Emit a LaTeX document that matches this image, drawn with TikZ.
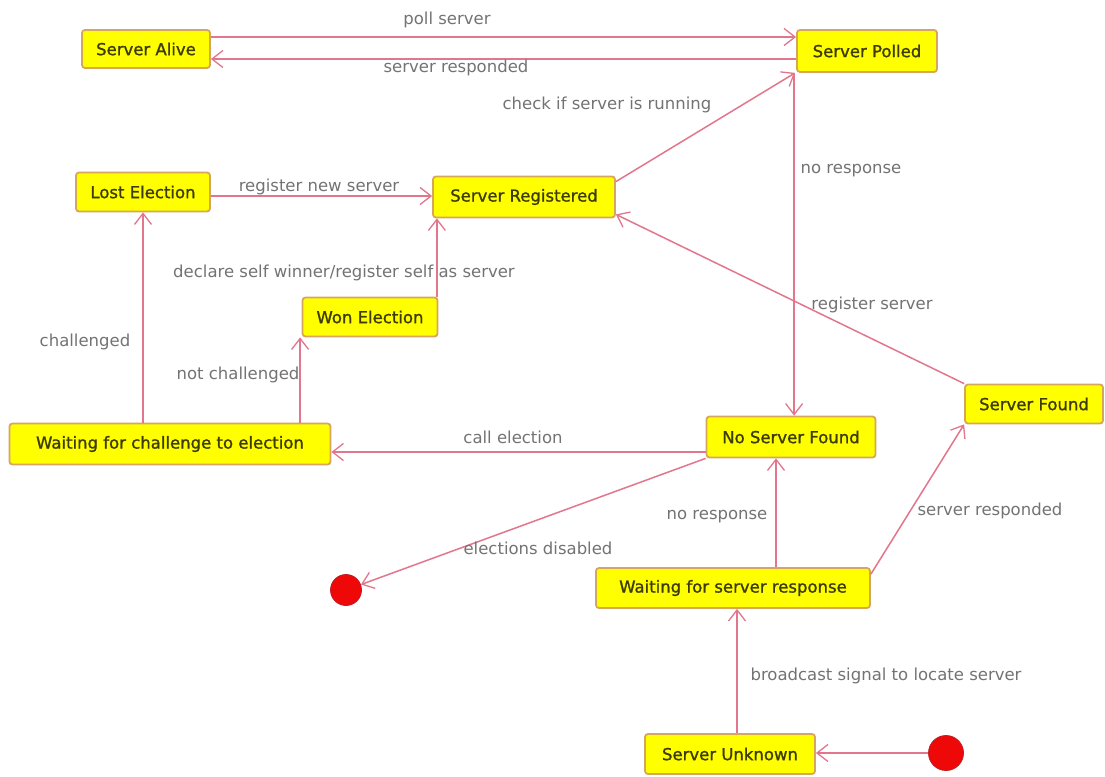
\documentclass[tikz,border=0pt]{standalone}
\usepackage{fontspec}
\setmainfont{DejaVu Sans}
\newfontfamily\statefont[FakeBold=1.2]{DejaVu Sans}
\usetikzlibrary{arrows.meta}
\definecolor{stfill}{RGB}{255,255,0}
\definecolor{stline}{RGB}{214,166,92}
\definecolor{sttext}{RGB}{60,60,0}
\definecolor{edge}{RGB}{226,118,140}
\definecolor{lbltext}{RGB}{115,115,115}
\definecolor{dot}{RGB}{238,8,8}
\definecolor{dotline}{RGB}{190,30,40}
\tikzset{
  st/.style={draw=stline, fill=stfill, line width=1.8pt, rounded corners=3pt,
    text=sttext, font=\statefont\fontsize{16.5}{18}\selectfont, inner sep=0pt},
  tr/.style={draw=edge, line width=1.5pt,
    -{Straight Barb[length=11pt,width=17pt,line width=1.3pt]}},
  lbl/.style={text=lbltext, font=\fontsize{16.5}{18}\selectfont, inner sep=1pt},
  pseudo/.style={circle, fill=dot, draw=dotline, line width=0.8pt, inner sep=0pt}
}
\begin{document}
\begin{tikzpicture}[x=1pt,y=-1pt]
\useasboundingbox (0,0) rectangle (1105,776);
\fill[white] (0,0) rectangle (1105,776);

% states
\node[st, minimum width=128pt, minimum height=38pt] (alive) at (146,49) {Server Alive};
\node[st, minimum width=140pt, minimum height=42pt] (polled) at (867,51) {Server Polled};
\node[st, minimum width=134pt, minimum height=39pt] (lost) at (143,192) {Lost Election};
\node[st, minimum width=182pt, minimum height=41pt] (registered) at (524,197) {Server Registered};
\node[st, minimum width=135pt, minimum height=39pt] (won) at (370,317) {Won Election};
\node[st, minimum width=321pt, minimum height=41pt] (wch) at (170,444) {Waiting for challenge to election};
\node[st, minimum width=169pt, minimum height=41pt] (nofound) at (791,437) {No Server Found};
\node[st, minimum width=138pt, minimum height=39pt] (found) at (1034,404) {Server Found};
\node[st, minimum width=274pt, minimum height=40pt] (wsr) at (733,588) {Waiting for server response};
\node[st, minimum width=170pt, minimum height=40pt] (unknown) at (730,754) {Server Unknown};

% pseudo states
\node[pseudo, minimum size=31pt] (final) at (346,590) {};
\node[pseudo, minimum size=35pt] (init) at (946,753) {};

% transitions
\draw[tr] ([yshift=12pt]alive.east) -- ([yshift=12pt]alive.east -| polled.west);
\draw[tr] ([yshift=-8pt]polled.west) -- ([yshift=-8pt]polled.west -| alive.east);
\draw[tr] ([yshift=-6pt]registered.north east) -- ([xshift=-1pt]polled.south west);
\draw[tr] ([xshift=-2pt]polled.south west) -- ([xshift=-2pt]polled.south west |- nofound.north);
\draw[tr] ([yshift=-4pt]lost.east) -- ([yshift=-4pt]lost.east -| registered.west);
\draw[tr] ([xshift=-1.5pt]won.north east) -- ([xshift=-1.5pt]won.north east |- registered.south);
\draw[tr] (lost.south |- wch.north) -- (lost.south);
\draw[tr] ([xshift=-1.5pt]won.south west |- wch.north) -- ([xshift=-1.5pt]won.south west);
\draw[tr] ([yshift=-15pt]nofound.west) -- ([yshift=-15pt]nofound.west -| wch.east);
\draw[tr] (nofound.south west) -- (final);
\draw[tr] (found.north west) -- ([yshift=4pt]registered.south east);
\draw[tr] ([xshift=-15pt]nofound.south |- wsr.north) -- ([xshift=-15pt]nofound.south);
\draw[tr] ([yshift=-7pt]wsr.north east) -- (found.south west);
\draw[tr] ([xshift=7pt]unknown.north) -- ([xshift=7pt]unknown.north |- wsr.south);
\draw[tr] (init.west) -- (init.west -| unknown.east);

% transition labels
\node[lbl] (l1) at (447,20) {poll server};
\node[lbl] (l2) at (456,68) {server responded};
\node[lbl] (l3) at (607,105) {check if server is running};
\node[lbl] (l4) at (851,171) {no response};
\node[lbl] (l5) at (319,187) {register new server};
\node[lbl] (l6) at (344,273) {declare self winner/register self as server};
\node[lbl] (l7) at (85,342) {challenged};
\node[lbl] (l8) at (238,375) {not challenged};
\node[lbl] (l9) at (513,437) {call election};
\node[lbl] (l10) at (872,305) {register server};
\node[lbl] (l11) at (538,548) {elections disabled};
\node[lbl] (l12) at (717,517) {no response};
\node[lbl] (l13) at (990,511) {server responded};
\node[lbl] (l14) at (886,676) {broadcast signal to locate server};
\end{tikzpicture}
\end{document}
